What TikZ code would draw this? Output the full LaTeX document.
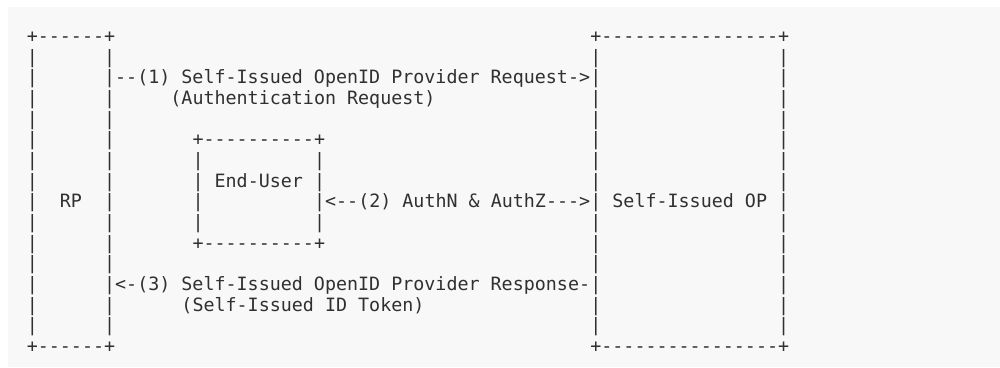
\documentclass[tikz,border=0pt]{standalone}
\usepackage{fontspec}
\setmonofont{DejaVu Sans Mono}
\usepackage{xcolor}
\definecolor{flowInk}{HTML}{303030}
\definecolor{flowPaper}{HTML}{F8F8F8}
\usepackage{tikz}

\tikzset{
  ascii/.style={font=\ttfamily\fontsize{13.05pt}{14pt}\selectfont, text=flowInk,
    inner sep=0pt, anchor=base west}
}

\begin{document}
\begin{tikzpicture}[x=0.27625cm, y=-0.51675cm]
  \useasboundingbox (-2.398,-2.056) rectangle (88.10,15.70);
  \fill[flowPaper] (-1.674,-1.717) rectangle (88.10,15.70);
  % RP
  \node[ascii] (rpTop) at (0,0) {+------+};
  \node[ascii] (rpBot) at (0,15) {+------+};
  \foreach \r in {1,...,14} {
    \node[ascii] (rpLeft\r) at (0,\r) {|};
    \node[ascii] (rpRight\r) at (7,\r) {|};
  }
  \node[ascii] (rpLabel) at (3,8) {RP};
  % Self-Issued OP
  \node[ascii] (opTop) at (51,0) {+----------------+};
  \node[ascii] (opBot) at (51,15) {+----------------+};
  \foreach \r in {1,...,14} {
    \node[ascii] (opLeft\r) at (51,\r) {|};
    \node[ascii] (opRight\r) at (68,\r) {|};
  }
  \node[ascii] (opLabel) at (53,8) {Self-Issued OP};
  % End-User
  \node[ascii] (userTop) at (15,5) {+----------+};
  \node[ascii] (userBot) at (15,10) {+----------+};
  \foreach \r in {6,...,9} {
    \node[ascii] (userLeft\r) at (15,\r) {|};
    \node[ascii] (userRight\r) at (26,\r) {|};
  }
  \node[ascii] (userLabel) at (17,7) {End-User};
  % messages
  \node[ascii] (reqMsg) at (8,2) {--(1) Self-Issued OpenID Provider Request->};
  \node[ascii] (reqNote) at (13,3) {(Authentication Request)};
  \node[ascii] (authMsg) at (27,8) {<--(2) AuthN \& AuthZ--->};
  \node[ascii] (respMsg) at (8,12) {<-(3) Self-Issued OpenID Provider Response-};
  \node[ascii] (respNote) at (14,13) {(Self-Issued ID Token)};
\end{tikzpicture}
\end{document}
